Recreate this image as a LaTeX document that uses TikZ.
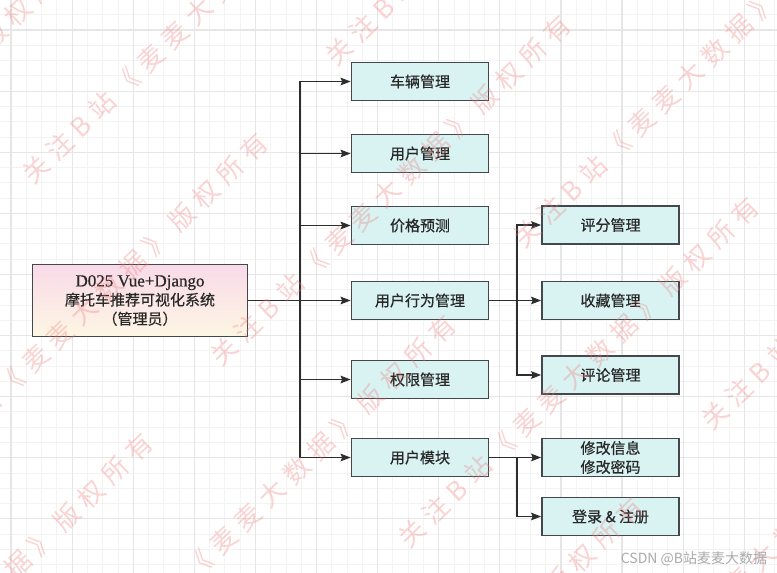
\documentclass[tikz,border=0pt]{standalone}
\usepackage{fontspec}
\newfontfamily\cjk{Noto Sans CJK SC}
\newfontfamily\cjkb[FakeBold=0.5]{Noto Sans CJK SC}
\newfontfamily\wmfont[LetterSpace=30]{Noto Sans CJK SC}
\newfontfamily\latinserif[FakeBold=0.5]{Liberation Serif}
\usetikzlibrary{arrows.meta}
\definecolor{boxfill}{RGB}{217,242,242}
\definecolor{boxline}{RGB}{66,72,78}
\definecolor{conncol}{RGB}{45,45,45}
\definecolor{txtcol}{RGB}{40,40,40}
\definecolor{wmcol}{RGB}{240,120,120}
\definecolor{gridminor}{RGB}{243,243,243}
\definecolor{gridmajor}{RGB}{230,230,230}
\definecolor{roottop}{RGB}{249,218,232}
\definecolor{rootbot}{RGB}{253,246,228}
\definecolor{csdncol}{RGB}{170,170,170}
\tikzset{
  box/.style={draw=boxline, line width=1.7pt, fill=boxfill, minimum width=137pt,
    minimum height=38pt, inner sep=0pt, font=\cjkb\fontsize{15}{19}\selectfont,
    text=txtcol, align=center},
  rootbox/.style={box, fill=none, top color=roottop, bottom color=rootbot,
    minimum width=215pt, minimum height=72pt},
  conn/.style={draw=conncol, line width=1.5pt,
    -{Stealth[length=10pt,width=7.5pt,inset=1.5pt]}},
  wm/.style={anchor=west, rotate=44, inner sep=0pt,
    font=\wmfont\fontsize{26}{26}\selectfont, text=wmcol, text opacity=0.32},
  gminor/.style={draw=gridminor, line width=0.8pt},
  gmajor/.style={draw=gridmajor, line width=1.2pt}
}
\begin{document}
\begin{tikzpicture}[x=1pt,y=-1pt]
\useasboundingbox (0,0) rectangle (777,573);
\fill[white] (0,0) rectangle (777,573);
% grid
\foreach \k in {-1,...,51} \draw[gminor] ({11+15.275*\k},0) -- ({11+15.275*\k},573);
\foreach \k in {-2,...,37} \draw[gminor] (0,{30+15.275*\k}) -- (777,{30+15.275*\k});
\foreach \k in {0,...,12} \draw[gmajor] ({11+61.1*\k},0) -- ({11+61.1*\k},573);
\foreach \k in {-1,...,9} \draw[gmajor] (0,{30+61.1*\k}) -- (777,{30+61.1*\k});

% nodes
\node[rootbox] (root) at (140,300.5) {{\latinserif\fontsize{17}{19}\selectfont D025 Vue+Django}\\摩托车推荐可视化系统\\（管理员）};
\node[box] (b1) at (420,81.5) {车辆管理};
\node[box] (b2) at (420,153.5) {用户管理};
\node[box] (b3) at (420,225.5) {价格预测};
\node[box] (b4) at (420,300.5) {用户行为管理};
\node[box] (b5) at (420,379.5) {权限管理};
\node[box] (b6) at (420,457.5) {用户模块};
\node[box] (c1) at (610.5,225) {评分管理};
\node[box] (c2) at (610.5,300.5) {收藏管理};
\node[box] (c3) at (610.5,375) {评论管理};
\node[box] (c4) at (610.5,457.5) {修改信息\\修改密码};
\node[box] (c5) at (610.5,516.5) {登录 \& 注册};

% connectors
\foreach \t in {b1,b2,b3,b4,b5,b6}
  \draw[conn] (root.east) -- ++(51.5,0) |- (\t.west);
\foreach \t in {c1,c2,c3}
  \draw[conn] (b4.east) -- ++(27.5,0) |- (\t.west);
\foreach \t in {c4,c5}
  \draw[conn] (b6.east) -- ++(27.5,0) |- (\t.west);

% watermark
\begin{scope}
\clip (0,0) rectangle (777,573);
\foreach \i/\j [count=\n] in {-1/0,0/0,1/0,0/1,1/1,2/1,0/2,1/2,2/2,3/2,2/3,3/3}
  \node[wm] (wm\n) at ({35+303*\i-115*\j-9},{170-118*\i+300*\j+9}) {关注B站《麦麦大数据》版权所有};
\end{scope}

\node[font=\cjk\fontsize{14}{14}\selectfont, text=csdncol, inner sep=0pt] (csdn) at (694,559) {CSDN @B站麦麦大数据};
\end{tikzpicture}
\end{document}
